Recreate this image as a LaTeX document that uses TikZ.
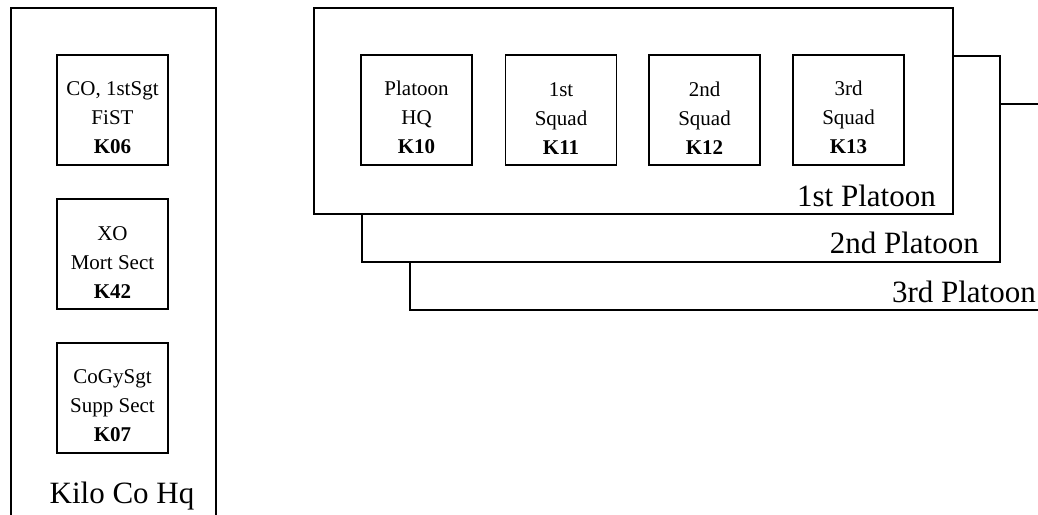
\documentclass[tikz,border=0pt]{standalone}
\usepackage{fontspec}
\setmainfont{Liberation Serif}
\usepackage{tikz}

\begin{document}
\begin{tikzpicture}[
    x=1pt, y=-1pt,
    frame/.style={
      rectangle,
      draw=black,
      fill=white,
      line width=1.6pt,
      anchor=north west,
      inner sep=0pt
    },
    unit/.style={
      rectangle,
      draw=black,
      line width=1.6pt,
      minimum width=111pt,
      minimum height=110pt,
      inner sep=0pt,
      align=center,
      font=\fontsize{21}{29}\selectfont,
      execute at begin node={\rule{0pt}{88pt}}
    },
    tag/.style={
      font=\fontsize{31}{36}\selectfont,
      inner sep=0pt
    }
  ]
    \useasboundingbox (0,0) rectangle (1038,514);

    % company headquarters
    \node[frame, minimum width=205pt, minimum height=523pt] (hq) at (10,7) {};
    \node[unit] (k06) at (112.5,110) {CO, 1stSgt\\FiST\\\textbf{K06}};
    \node[unit] (k42) at (112.5,254) {XO\\Mort Sect\\\textbf{K42}};
    \node[unit] (k07) at (112.5,398) {CoGySgt\\Supp Sect\\\textbf{K07}};
    \node[tag, anchor=base] (hqname) at (122,503) {Kilo Co Hq};

    % platoons, back to front
    \node[frame, minimum width=638pt, minimum height=206pt] (plt3) at (409,103) {};
    \node[tag, anchor=base east] (plt3name) at (1036,302) {3rd Platoon};
    \node[frame, minimum width=638pt, minimum height=206pt] (plt2) at (361,55) {};
    \node[tag, anchor=base east] (plt2name) at (979,253) {2nd Platoon};
    \node[frame, minimum width=639pt, minimum height=206pt] (plt1) at (313,7) {};
    \node[tag, anchor=base east] (plt1name) at (936,206) {1st Platoon};

    % squads of the 1st platoon
    \node[unit] (k10) at (416.5,110) {Platoon\\HQ\\\textbf{K10}};
    \node[unit] (k11) at (561,110)   {1st\\Squad\\\textbf{K11}};
    \node[unit] (k12) at (704.5,110) {2nd\\Squad\\\textbf{K12}};
    \node[unit] (k13) at (848.5,110) {3rd\\Squad\\\textbf{K13}};
  \end{tikzpicture}
\end{document}
